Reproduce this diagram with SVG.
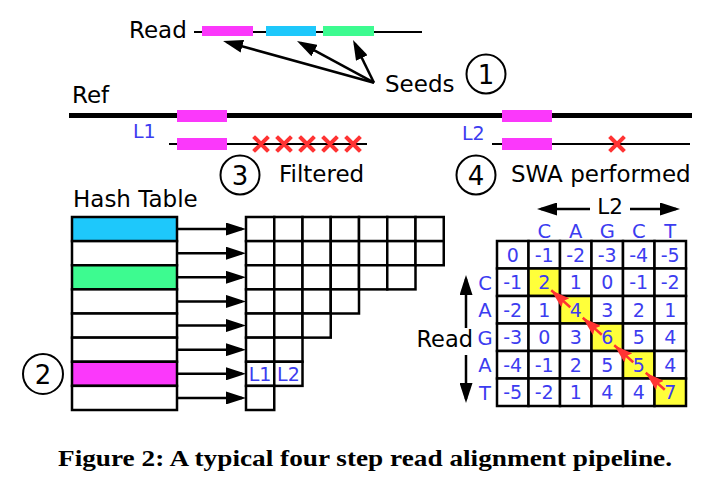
<svg xmlns="http://www.w3.org/2000/svg" width="711" height="485" viewBox="0 0 711 485">
<defs>
<marker id="ah" markerUnits="userSpaceOnUse" markerWidth="20" markerHeight="13" refX="16" refY="6.5" orient="auto">
<path d="M0,0 L20,6.5 L0,13 z" fill="#000"/>
</marker>
<marker id="rh" markerUnits="userSpaceOnUse" markerWidth="19" markerHeight="12" refX="19" refY="6" orient="auto">
<path d="M0,0 L19,6 L0,12 L3,6 z" fill="#f33"/>
</marker>
</defs>
<style>
text{font-family:"DejaVu Sans",Verdana,sans-serif}
.lbl{font-size:23px;fill:#000}
.blue{fill:#3c3cf0}
.num{font-size:19px;text-anchor:middle}
.let{font-size:19.5px;text-anchor:middle}
.circ{fill:none;stroke:#000;stroke-width:2}
.cnum{font-size:26px;text-anchor:middle}
.cell{fill:#fff;stroke:#000;stroke-width:2.5}
.yel{fill:#ffff3a;stroke:#000;stroke-width:2.5}
.arr{stroke:#000;stroke-width:2.5;fill:none;marker-end:url(#ah)}
.rarr{stroke:#f33;stroke-width:2.5;fill:none;marker-end:url(#rh)}
.x{stroke:#f33;stroke-width:4;stroke-linecap:square}
.mag{fill:#fb38fb}
.cyan{fill:#1ec8fb}
.grn{fill:#3dfb90}
.cap{font-family:"Liberation Serif","Times New Roman",serif;font-weight:bold;font-size:23px}
</style>

<g id="read-seeds">
<text class="lbl" x="129" y="38">Read</text>
<line x1="194" y1="32" x2="422" y2="32" stroke="#000" stroke-width="2"/>
<rect class="mag" x="202" y="26" width="51" height="10"/>
<rect class="cyan" x="266" y="26" width="50" height="10"/>
<rect class="grn" x="323" y="26" width="51" height="10"/>
<text class="lbl" x="385" y="92">Seeds</text>
<circle class="circ" cx="486" cy="74" r="19.5"/>
<text class="cnum" x="486" y="83.5">1</text>
</g>

<g id="ref">
<text class="lbl" x="72" y="103">Ref</text>
<line x1="69" y1="115.5" x2="692" y2="115.5" stroke="#000" stroke-width="5"/>
<rect class="mag" x="177" y="110" width="50" height="12"/>
<rect class="mag" x="502" y="110" width="50" height="12"/>
</g>

<g id="l1-filtered">
<text class="blue" x="133" y="138" font-size="19">L1</text>
<line x1="169" y1="144" x2="367" y2="144" stroke="#000" stroke-width="2"/>
<rect class="mag" x="177" y="138" width="50" height="12"/>
<path class="x" d="M255,138 l12,12 M267,138 l-12,12 M278,138 l12,12 M290,138 l-12,12 M301,138 l12,12 M313,138 l-12,12 M324,138 l12,12 M336,138 l-12,12 M347,138 l12,12 M359,138 l-12,12"/>
<circle class="circ" cx="240" cy="175" r="19.5"/>
<text class="cnum" x="240" y="184.5">3</text>
<text class="lbl" x="279" y="182">Filtered</text>
</g>

<g id="l2-swa">
<text class="blue" x="462" y="140" font-size="19">L2</text>
<line x1="492" y1="144" x2="690" y2="144" stroke="#000" stroke-width="2"/>
<rect class="mag" x="502" y="138" width="50" height="12"/>
<path class="x" d="M611,138 l12,12 M623,138 l-12,12"/>
<circle class="circ" cx="476" cy="175" r="19.5"/>
<text class="cnum" x="476" y="184.5">4</text>
<text class="lbl" x="511" y="182">SWA performed</text>
</g>

<g id="hash-table">
<text class="lbl" x="73" y="207">Hash Table</text>
<rect class="cell" x="72" y="217" width="105" height="24.125" style="fill:#1ec8fb"/>
<rect class="cell" x="72" y="241.125" width="105" height="24.125"/>
<rect class="cell" x="72" y="265.25" width="105" height="24.125" style="fill:#3dfb90"/>
<rect class="cell" x="72" y="289.375" width="105" height="24.125"/>
<rect class="cell" x="72" y="313.5" width="105" height="24.125"/>
<rect class="cell" x="72" y="337.625" width="105" height="24.125"/>
<rect class="cell" x="72" y="361.75" width="105" height="24.125" style="fill:#fb38fb"/>
<rect class="cell" x="72" y="385.875" width="105" height="24.125"/>
<circle class="circ" cx="43" cy="374" r="20"/>
<text class="cnum" x="43" y="383.5">2</text>
</g>

<g id="connectors">
<line class="arr" x1="374" y1="82.7" x2="226.9" y2="42.1"/>
<line class="arr" x1="374" y1="82.7" x2="300.5" y2="42.9"/>
<line class="arr" x1="374" y1="82.7" x2="354.8" y2="43.6"/>
<line class="arr" x1="178" y1="229.06" x2="242" y2="229.06"/>
<line class="arr" x1="178" y1="253.19" x2="242" y2="253.19"/>
<line class="arr" x1="178" y1="277.31" x2="242" y2="277.31"/>
<line class="arr" x1="178" y1="301.44" x2="242" y2="301.44"/>
<line class="arr" x1="178" y1="325.56" x2="242" y2="325.56"/>
<line class="arr" x1="178" y1="349.69" x2="242" y2="349.69"/>
<line class="arr" x1="178" y1="373.81" x2="242" y2="373.81"/>
<line class="arr" x1="178" y1="397.94" x2="242" y2="397.94"/>
</g>

<g id="bucket-grid">
<rect class="cell" x="246" y="217" width="28.25" height="24.125"/>
<rect class="cell" x="274.25" y="217" width="28.25" height="24.125"/>
<rect class="cell" x="302.5" y="217" width="28.25" height="24.125"/>
<rect class="cell" x="330.75" y="217" width="28.25" height="24.125"/>
<rect class="cell" x="359" y="217" width="28.25" height="24.125"/>
<rect class="cell" x="387.25" y="217" width="28.25" height="24.125"/>
<rect class="cell" x="415.5" y="217" width="28.25" height="24.125"/>
<rect class="cell" x="246" y="241.125" width="28.25" height="24.125"/>
<rect class="cell" x="274.25" y="241.125" width="28.25" height="24.125"/>
<rect class="cell" x="302.5" y="241.125" width="28.25" height="24.125"/>
<rect class="cell" x="330.75" y="241.125" width="28.25" height="24.125"/>
<rect class="cell" x="359" y="241.125" width="28.25" height="24.125"/>
<rect class="cell" x="387.25" y="241.125" width="28.25" height="24.125"/>
<rect class="cell" x="415.5" y="241.125" width="28.25" height="24.125"/>
<rect class="cell" x="246" y="265.25" width="28.25" height="24.125"/>
<rect class="cell" x="274.25" y="265.25" width="28.25" height="24.125"/>
<rect class="cell" x="302.5" y="265.25" width="28.25" height="24.125"/>
<rect class="cell" x="330.75" y="265.25" width="28.25" height="24.125"/>
<rect class="cell" x="359" y="265.25" width="28.25" height="24.125"/>
<rect class="cell" x="387.25" y="265.25" width="28.25" height="24.125"/>
<rect class="cell" x="246" y="289.375" width="28.25" height="24.125"/>
<rect class="cell" x="274.25" y="289.375" width="28.25" height="24.125"/>
<rect class="cell" x="302.5" y="289.375" width="28.25" height="24.125"/>
<rect class="cell" x="330.75" y="289.375" width="28.25" height="24.125"/>
<rect class="cell" x="246" y="313.5" width="28.25" height="24.125"/>
<rect class="cell" x="274.25" y="313.5" width="28.25" height="24.125"/>
<rect class="cell" x="302.5" y="313.5" width="28.25" height="24.125"/>
<rect class="cell" x="246" y="337.625" width="28.25" height="24.125"/>
<rect class="cell" x="274.25" y="337.625" width="28.25" height="24.125"/>
<rect class="cell" x="246" y="361.75" width="28.25" height="24.125"/>
<rect class="cell" x="274.25" y="361.75" width="28.25" height="24.125"/>
<rect class="cell" x="246" y="385.875" width="28.25" height="24.125"/>
<text class="blue num" x="260.1" y="381" font-size="19.5">L1</text>
<text class="blue num" x="288.4" y="381" font-size="19.5">L2</text>
</g>

<g id="dp-matrix">
<text x="610" y="213.5" font-size="21.5" text-anchor="middle">L2</text>
<line class="arr" x1="590" y1="209" x2="541" y2="209"/>
<line class="arr" x1="630" y1="209" x2="676" y2="209"/>
<text x="473" y="347" font-size="22.5" text-anchor="end">Read</text>
<line class="arr" x1="466" y1="328" x2="466" y2="279"/>
<line class="arr" x1="466" y1="355" x2="466" y2="399"/>
<g class="blue let">
<text x="544.25" y="237.5">C</text><text x="575.75" y="237.5">A</text><text x="607.25" y="237.5">G</text><text x="638.75" y="237.5">C</text><text x="670.25" y="237.5">T</text>
<text x="485" y="289.5">C</text><text x="485" y="317">A</text><text x="485" y="344.5">G</text><text x="485" y="372">A</text><text x="485" y="399.5">T</text>
</g>
<g>
<rect class="cell" x="497" y="241" width="31.5" height="27.5"/><rect class="cell" x="528.5" y="241" width="31.5" height="27.5"/><rect class="cell" x="560" y="241" width="31.5" height="27.5"/><rect class="cell" x="591.5" y="241" width="31.5" height="27.5"/><rect class="cell" x="623" y="241" width="31.5" height="27.5"/><rect class="cell" x="654.5" y="241" width="31.5" height="27.5"/>
<rect class="cell" x="497" y="268.5" width="31.5" height="27.5"/><rect class="yel" x="528.5" y="268.5" width="31.5" height="27.5"/><rect class="cell" x="560" y="268.5" width="31.5" height="27.5"/><rect class="cell" x="591.5" y="268.5" width="31.5" height="27.5"/><rect class="cell" x="623" y="268.5" width="31.5" height="27.5"/><rect class="cell" x="654.5" y="268.5" width="31.5" height="27.5"/>
<rect class="cell" x="497" y="296" width="31.5" height="27.5"/><rect class="cell" x="528.5" y="296" width="31.5" height="27.5"/><rect class="yel" x="560" y="296" width="31.5" height="27.5"/><rect class="cell" x="591.5" y="296" width="31.5" height="27.5"/><rect class="cell" x="623" y="296" width="31.5" height="27.5"/><rect class="cell" x="654.5" y="296" width="31.5" height="27.5"/>
<rect class="cell" x="497" y="323.5" width="31.5" height="27.5"/><rect class="cell" x="528.5" y="323.5" width="31.5" height="27.5"/><rect class="cell" x="560" y="323.5" width="31.5" height="27.5"/><rect class="yel" x="591.5" y="323.5" width="31.5" height="27.5"/><rect class="cell" x="623" y="323.5" width="31.5" height="27.5"/><rect class="cell" x="654.5" y="323.5" width="31.5" height="27.5"/>
<rect class="cell" x="497" y="351" width="31.5" height="27.5"/><rect class="cell" x="528.5" y="351" width="31.5" height="27.5"/><rect class="cell" x="560" y="351" width="31.5" height="27.5"/><rect class="cell" x="591.5" y="351" width="31.5" height="27.5"/><rect class="yel" x="623" y="351" width="31.5" height="27.5"/><rect class="cell" x="654.5" y="351" width="31.5" height="27.5"/>
<rect class="cell" x="497" y="378.5" width="31.5" height="27.5"/><rect class="cell" x="528.5" y="378.5" width="31.5" height="27.5"/><rect class="cell" x="560" y="378.5" width="31.5" height="27.5"/><rect class="cell" x="591.5" y="378.5" width="31.5" height="27.5"/><rect class="cell" x="623" y="378.5" width="31.5" height="27.5"/><rect class="yel" x="654.5" y="378.5" width="31.5" height="27.5"/>
</g>
<g class="blue num">
<text x="512.75" y="261.5">0</text><text x="544.25" y="261.5">-1</text><text x="575.75" y="261.5">-2</text><text x="607.25" y="261.5">-3</text><text x="638.75" y="261.5">-4</text><text x="670.25" y="261.5">-5</text>
<text x="512.75" y="289">-1</text><text x="544.25" y="289">2</text><text x="575.75" y="289">1</text><text x="607.25" y="289">0</text><text x="638.75" y="289">-1</text><text x="670.25" y="289">-2</text>
<text x="512.75" y="316.5">-2</text><text x="544.25" y="316.5">1</text><text x="575.75" y="316.5">4</text><text x="607.25" y="316.5">3</text><text x="638.75" y="316.5">2</text><text x="670.25" y="316.5">1</text>
<text x="512.75" y="344">-3</text><text x="544.25" y="344">0</text><text x="575.75" y="344">3</text><text x="607.25" y="344">6</text><text x="638.75" y="344">5</text><text x="670.25" y="344">4</text>
<text x="512.75" y="371.5">-4</text><text x="544.25" y="371.5">-1</text><text x="575.75" y="371.5">2</text><text x="607.25" y="371.5">5</text><text x="638.75" y="371.5">5</text><text x="670.25" y="371.5">4</text>
<text x="512.75" y="399">-5</text><text x="544.25" y="399">-2</text><text x="575.75" y="399">1</text><text x="607.25" y="399">4</text><text x="638.75" y="399">4</text><text x="670.25" y="399">7</text>
</g>
<g id="traceback">
<line class="rarr" x1="570.25" y1="307.25" x2="551.25" y2="290.25"/>
<line class="rarr" x1="601.75" y1="334.75" x2="582.75" y2="317.75"/>
<line class="rarr" x1="633.25" y1="362.25" x2="614.25" y2="345.25"/>
<line class="rarr" x1="664.75" y1="389.75" x2="645.75" y2="372.75"/>
</g>
</g>

<text class="cap" x="58" y="466" textLength="614" lengthAdjust="spacingAndGlyphs">Figure 2: A typical four step read alignment pipeline.</text>
</svg>
